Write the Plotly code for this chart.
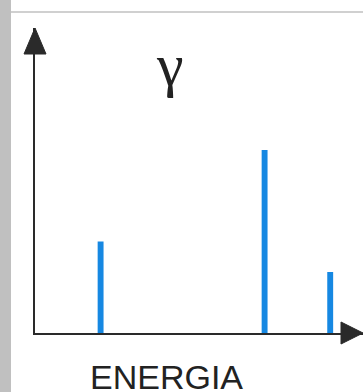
import plotly.graph_objects as go

# Gamma-ray spectrum sketch: three emission lines on an energy axis
energies = [2, 7, 9]          # line positions along the energy axis (arb. units)
intensities = [3, 6, 2]       # relative line intensities
x_label = "ENERGIA"
y_symbol = "γ"

W, H = 363, 392
x_dom = [35 / W, 1.0]
y_dom = [(H - 333) / H, (H - 28) / H]
axis_color = "#2a2a2a"
line_blue = "#1688e2"
frame_gray = "#c0c0c0"

fig = go.Figure()
fig.add_trace(go.Bar(
    x=energies, y=intensities, width=0.18,
    marker=dict(color=line_blue, line=dict(width=0)),
    hoverinfo="skip",
))

shapes = [
    # left gray strip and top separator line
    dict(type="rect", xref="paper", yref="paper", x0=0, x1=11 / W, y0=0, y1=1,
         fillcolor=frame_gray, line=dict(width=0), layer="below"),
    dict(type="line", xref="paper", yref="paper", x0=11 / W, x1=1,
         y0=(H - 12) / H, y1=(H - 12) / H, line=dict(color=frame_gray, width=1.5)),
    # arrowhead at the top of the vertical axis
    dict(type="path", xref="paper", yref="paper", xsizemode="pixel", ysizemode="pixel",
         xanchor=x_dom[0], yanchor=y_dom[1], path="M0,0 L-11,-26 L11,-26 Z",
         fillcolor=axis_color, line=dict(color=axis_color, width=1)),
    # arrowhead at the end of the energy axis
    dict(type="path", xref="paper", yref="paper", xsizemode="pixel", ysizemode="pixel",
         xanchor=x_dom[1], yanchor=y_dom[0], path="M0,0 L-22,11 L-22,-11 Z",
         fillcolor=axis_color, line=dict(color=axis_color, width=1)),
]

annotations = [
    dict(text=x_label, xref="paper", yref="paper", x=88 / W, y=(H - 356) / H,
         xanchor="left", yanchor="top", showarrow=False,
         font=dict(family="Liberation Sans, Arial", size=34, color="#222222")),
    dict(text=y_symbol, xref="paper", yref="paper",
         x=170 / W, y=(H - 30) / H, xanchor="center", yanchor="top",
         showarrow=False,
         font=dict(family="Liberation Serif, Times New Roman", size=60, color="#222222")),
]

fig.update_layout(
    width=W, height=H,
    margin=dict(l=0, r=0, t=0, b=0),
    paper_bgcolor="white", plot_bgcolor="white",
    showlegend=False,
    shapes=shapes,
    annotations=annotations,
    xaxis=dict(domain=x_dom, range=[0, 10], showgrid=False, zeroline=False,
               showticklabels=False, ticks="", showline=True,
               linecolor=axis_color, linewidth=2, fixedrange=True),
    yaxis=dict(domain=y_dom, range=[0, 10], showgrid=False, zeroline=False,
               showticklabels=False, ticks="", showline=True,
               linecolor=axis_color, linewidth=2, fixedrange=True),
)

fig.write_html("out.html", config=dict(displayModeBar=False))
